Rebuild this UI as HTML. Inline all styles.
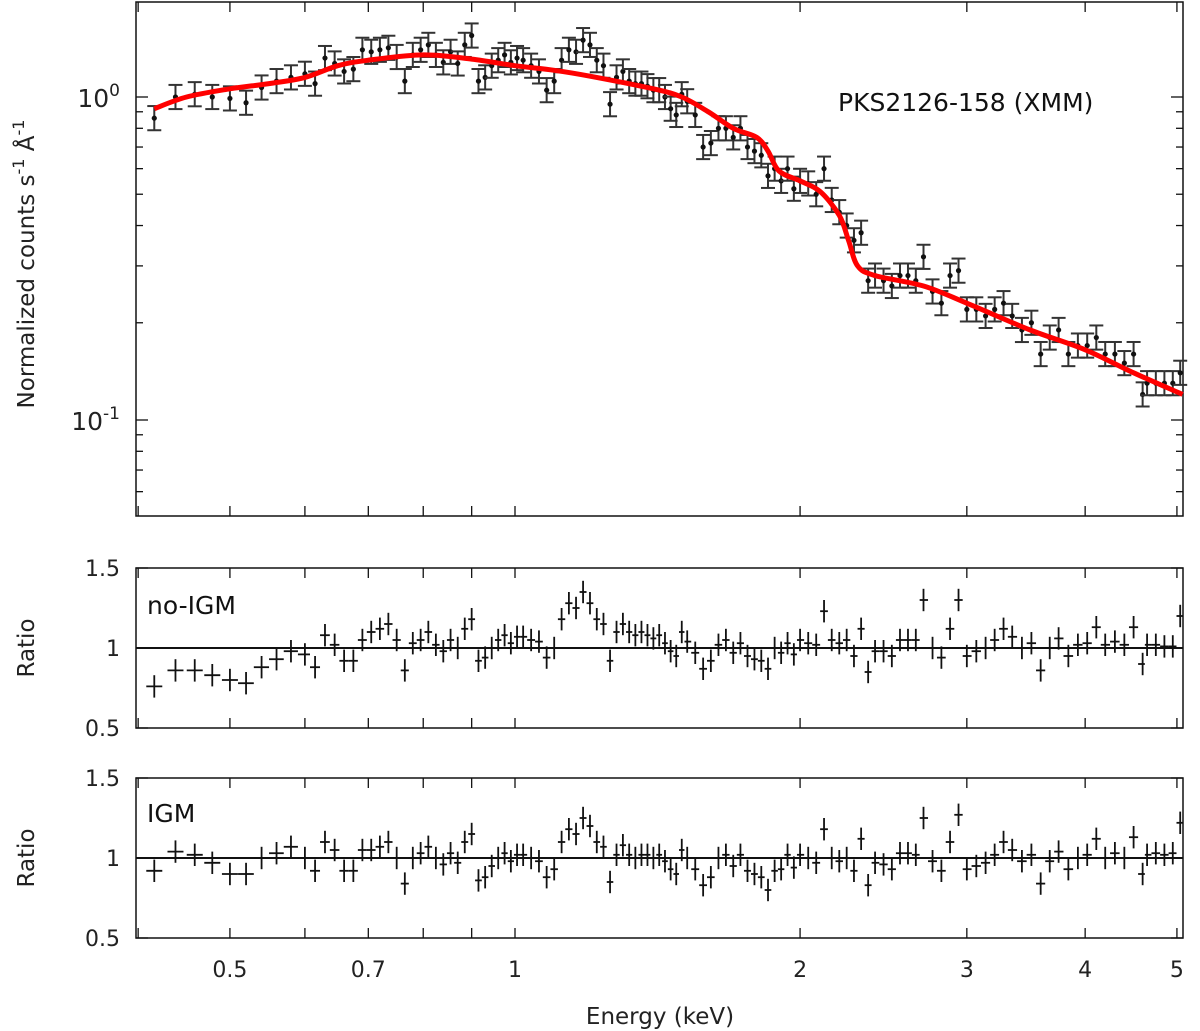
<!DOCTYPE html>
<html><head><meta charset="utf-8"><style>
body{margin:0;background:#fff;}
svg{display:block;font-family:"DejaVu Sans","Liberation Sans",sans-serif;}
</style></head><body>
<svg id="chart" width="1200" height="1031" viewBox="0 0 1200 1031" xmlns="http://www.w3.org/2000/svg"></svg>
<script>
const energies=[0.416,0.438,0.459,0.479,0.5,0.52,0.54,0.56,0.58,
0.6,0.615,0.63,0.645,0.66,0.675,0.69,0.705,0.72,0.735,
0.75,0.765,0.78,0.795,0.81,0.825,0.84,0.855,0.87,0.885,
0.9,0.915,0.93,0.945,0.96,0.975,0.99,1.005,1.02,1.04,
1.06,1.08,1.10,1.12,1.14,1.16,1.18,1.20,1.22,1.24,
1.26,1.28,1.30,1.32,1.34,1.36,1.38,1.40,1.42,1.44,
1.46,1.48,1.50,1.52,1.55,1.58,1.61,1.64,1.67,1.70,
1.73,1.76,1.79,1.82,1.85,1.88,1.91,1.94,1.97,2.00,
2.04,2.08,2.12,2.16,2.20,2.24,2.28,2.32,2.36,2.40,
2.45,2.50,2.55,2.60,2.65,2.70,2.76,2.82,2.88,2.94,
3.00,3.07,3.14,3.21,3.28,3.35,3.43,3.51,3.59,3.67,
3.75,3.84,3.93,4.02,4.11,4.20,4.30,4.40,4.50,4.60,
4.65,4.75,4.85,4.95,5.04];
const counts=[0.86,1.0,1.02,1.0,0.99,0.96,1.07,1.12,1.15,1.18,
1.1,1.32,1.27,1.2,1.22,1.4,1.38,1.4,1.42,1.33,
1.12,1.35,1.4,1.45,1.35,1.28,1.38,1.27,1.45,1.55,
1.12,1.15,1.25,1.3,1.35,1.28,1.32,1.3,1.25,1.2,
1.05,1.12,1.3,1.4,1.38,1.5,1.45,1.3,1.25,0.95,
1.15,1.2,1.12,1.1,1.1,1.08,1.05,1.05,1.0,0.92,
0.88,1.02,0.97,0.88,0.7,0.72,0.8,0.8,0.75,0.8,
0.7,0.68,0.66,0.57,0.6,0.55,0.6,0.52,0.55,0.54,
0.5,0.6,0.48,0.44,0.4,0.36,0.38,0.27,0.28,0.27,
0.26,0.28,0.28,0.27,0.32,0.25,0.23,0.28,0.29,0.22,
0.22,0.21,0.22,0.23,0.21,0.19,0.2,0.16,0.18,0.19,
0.16,0.17,0.17,0.18,0.16,0.16,0.15,0.16,0.12,0.13,
0.13,0.13,0.13,0.14];
const ratioNoIGM=[0.76,0.86,0.86,0.83,0.8,0.78,0.88,0.93,0.98,0.96,
0.88,1.08,1.02,0.92,0.92,1.05,1.1,1.12,1.15,1.05,
0.86,1.03,1.05,1.1,1.02,0.98,1.05,1.0,1.12,1.18,
0.92,0.94,1.0,1.05,1.08,1.03,1.07,1.07,1.05,1.04,
0.94,1.0,1.18,1.28,1.25,1.35,1.28,1.18,1.15,0.92,
1.1,1.15,1.1,1.08,1.1,1.08,1.06,1.08,1.03,0.98,
0.95,1.1,1.04,0.97,0.87,0.92,1.02,1.05,0.97,1.03,
0.95,0.93,0.92,0.87,1.0,0.97,1.03,0.96,1.05,1.03,
1.02,1.23,1.05,1.03,1.05,0.95,1.12,0.85,0.98,0.98,
0.95,1.05,1.05,1.05,1.3,1.0,0.94,1.12,1.3,0.95,
0.98,1.0,1.05,1.12,1.07,1.0,1.03,0.86,1.0,1.06,
0.95,1.02,1.03,1.13,1.02,1.04,1.02,1.13,0.9,1.02,
1.02,1.01,1.01,1.2];
const ratioIGM=[0.92,1.04,1.02,0.97,0.9,0.9,1.0,1.03,1.07,1.0,
0.92,1.1,1.05,0.92,0.92,1.05,1.05,1.07,1.1,1.0,
0.84,1.0,1.03,1.07,1.0,0.96,1.03,0.97,1.1,1.15,
0.86,0.88,0.95,1.0,1.03,0.98,1.02,1.02,1.0,0.98,
0.88,0.93,1.1,1.18,1.15,1.25,1.2,1.1,1.07,0.85,
1.02,1.08,1.02,1.0,1.02,1.02,1.0,1.02,0.98,0.93,
0.9,1.05,1.0,0.93,0.83,0.88,1.0,1.02,0.95,1.02,
0.92,0.9,0.88,0.8,0.92,0.93,1.02,0.94,1.02,1.0,
0.97,1.18,1.0,0.98,1.0,0.92,1.12,0.83,0.97,0.96,
0.93,1.03,1.03,1.02,1.25,0.98,0.92,1.1,1.27,0.93,
0.95,0.97,1.02,1.1,1.05,0.98,1.02,0.84,0.98,1.04,
0.93,1.0,1.02,1.12,1.0,1.03,1.0,1.13,0.9,1.02,
1.03,1.02,1.03,1.22];
const modelE=[0.416,0.45,0.5,0.55,0.6,0.65,0.7,0.8,0.9,1.0,1.1,1.2,1.4,1.5,1.6,1.7,1.8,1.85,1.9,2.0,2.1,2.2,2.25,2.3,2.4,2.7,3.0,3.5,4.0,4.5,5.07];
const modelV=[0.92,1.0,1.06,1.1,1.15,1.25,1.3,1.35,1.31,1.25,1.21,1.16,1.06,1.0,0.9,0.8,0.75,0.68,0.59,0.55,0.51,0.43,0.36,0.30,0.28,0.26,0.23,0.19,0.165,0.14,0.12];
const xTicks=[0.5,0.7,1,2,3,4,5];
const xMinor=[0.4,0.6,0.8,0.9];

const NS="http://www.w3.org/2000/svg";
const svg=document.getElementById('chart');
const X0=136,X1=1183;
const xs=e=>515+947*Math.log10(e);
const ysTop=v=>97-323*Math.log10(v);
const ysMid=r=>648-160*(r-1);
const ysBot=r=>858-160*(r-1);
function el(tag,attrs,parent){const n=document.createElementNS(NS,tag);for(const k in attrs)n.setAttribute(k,attrs[k]);(parent||svg).appendChild(n);return n;}
function halfW(i){const a=i>0?energies[i-1]:energies[i]*energies[i]/energies[i+1];const b=i<energies.length-1?energies[i+1]:energies[i]*energies[i]/energies[i-1];const x=xs(energies[i]);return [Math.max(xs(Math.sqrt(a*energies[i])),x-8),Math.min(xs(Math.sqrt(b*energies[i])),x+8)];}

const panels=[[2,516],[568,728],[778,938]];
panels.forEach((p,k)=>{
  const r=el('rect',{x:X0,y:p[0],width:X1-X0,height:p[1]-p[0],fill:'none',stroke:'#111','stroke-width':1.5});
  
  
  xTicks.concat(xMinor).forEach(e=>{const x=xs(e);
    el('line',{x1:x,x2:x,y1:p[1],y2:p[1]-10,stroke:'#111','stroke-width':1.3});
    el('line',{x1:x,x2:x,y1:p[0],y2:p[0]+10,stroke:'#111','stroke-width':1.3});});
});
const xl=el('g',{});


xTicks.forEach(e=>{const t=el('text',{x:xs(e),y:977,'text-anchor':'middle','font-size':22,fill:'#222'},xl);t.textContent=String(e);});
const topMaj=[1,0.1];const topMin=[0.06,0.07,0.08,0.09,0.2,0.3,0.4,0.5,0.6,0.7,0.8,0.9,2];
topMaj.forEach(v=>{const y=ysTop(v);el('line',{x1:X0,x2:X0+12,y1:y,y2:y,stroke:'#111','stroke-width':1.3});el('line',{x1:X1,x2:X1-12,y1:y,y2:y,stroke:'#111','stroke-width':1.3});});
topMin.forEach(v=>{const y=ysTop(v);if(y<2||y>516)return;el('line',{x1:X0,x2:X0+7,y1:y,y2:y,stroke:'#111','stroke-width':1.3});el('line',{x1:X1,x2:X1-7,y1:y,y2:y,stroke:'#111','stroke-width':1.3});});
[[1,'0'],[0.1,'-1']].forEach(([v,ex])=>{const t=el('text',{x:120,y:ysTop(v)+10,'text-anchor':'end','font-size':25,fill:'#222'});t.innerHTML='10<tspan dy="-11" font-size="17">'+ex+'</tspan>';});
[[ysMid],[ysBot]].forEach(([f])=>{[0.5,1,1.5].forEach(v=>{const y=f(v);el('line',{x1:X0,x2:X0+12,y1:y,y2:y,stroke:'#111','stroke-width':1.3});el('line',{x1:X1,x2:X1-12,y1:y,y2:y,stroke:'#111','stroke-width':1.3});const t=el('text',{x:120,y:y+8,'text-anchor':'end','font-size':22,fill:'#222'});t.textContent=String(v);});
  const l=el('line',{x1:X0,x2:X1,y1:f(1),y2:f(1),stroke:'#111','stroke-width':2});
  
});
function txt(s,a,name){const t=el('text',a);t.innerHTML=s;return t;}
txt('Normalized counts s<tspan dy="-10" font-size="16">-1</tspan><tspan dy="10"> Å</tspan><tspan dy="-10" font-size="16">-1</tspan>',{x:0,y:0,transform:'translate(34,264) rotate(-90)','text-anchor':'middle','font-size':23,fill:'#222'},'y-axis-title');
txt('Ratio',{x:0,y:0,transform:'translate(34,648) rotate(-90)','text-anchor':'middle','font-size':23,fill:'#222'},'ratio-axis-title-no-igm');
txt('Ratio',{x:0,y:0,transform:'translate(34,858) rotate(-90)','text-anchor':'middle','font-size':23,fill:'#222'},'ratio-axis-title-igm');
txt('Energy (keV)',{x:660,y:1024,'text-anchor':'middle','font-size':23,fill:'#222'},'x-axis-title');
txt('PKS2126-158 (XMM)',{x:838,y:111,'font-size':25,fill:'#111'},'source-label');
txt('no-IGM',{x:147,y:614,'font-size':25,fill:'#111'},'no-igm-label');
txt('IGM',{x:147,y:822,'font-size':25,fill:'#111'},'igm-label');

const gS=el('g',{stroke:'#333','stroke-width':2,fill:'#111'});


energies.forEach((e,i)=>{const x=xs(e),v=counts[i];const y1=ysTop(v*1.09),y2=ysTop(v/1.09);
  const g=el('g',{},gS);
  
  
  el('line',{x1:x,x2:x,y1:y1,y2:y2},g);
  el('line',{x1:x-7,x2:x+7,y1:y1,y2:y1},g);
  el('line',{x1:x-7,x2:x+7,y1:y2,y2:y2},g);
  el('circle',{cx:x,cy:ysTop(v),r:2.6,stroke:'none'},g);});
// model: Catmull-Rom smoothing through knots
const P=modelE.map((e,i)=>[xs(Math.min(e,5.07)),ysTop(modelV[i])]);
let d='M'+P[0][0].toFixed(1)+','+P[0][1].toFixed(1);
for(let i=0;i<P.length-1;i++){const p0=P[Math.max(i-1,0)],p1=P[i],p2=P[i+1],p3=P[Math.min(i+2,P.length-1)];
  const c1=[p1[0]+(p2[0]-p0[0])/6,p1[1]+(p2[1]-p0[1])/6],c2=[p2[0]-(p3[0]-p1[0])/6,p2[1]-(p3[1]-p1[1])/6];
  d+=' C'+c1.map(v=>v.toFixed(1))+' '+c2.map(v=>v.toFixed(1))+' '+p2.map(v=>v.toFixed(1));}
const m=el('path',{d:d,fill:'none',stroke:'#f00','stroke-width':5,'stroke-linejoin':'round'});


[[ratioNoIGM,ysMid,'no-igm-ratio'],[ratioIGM,ysBot,'igm-ratio']].forEach(([arr,f,name])=>{
  const g=el('g',{stroke:'#111','stroke-width':1.8});
  
  
  energies.forEach((e,i)=>{const [xa,xb]=halfW(i);const x=xs(e),y=f(arr[i]);
    const p=el('g',{},g);
    
    
    el('line',{x1:Math.max(xa,X0),x2:Math.min(xb,X1),y1:y,y2:y},p);
    el('line',{x1:x,x2:x,y1:f(arr[i]+0.07),y2:f(arr[i]-0.07)},p);});
});
</script>
</body></html>
